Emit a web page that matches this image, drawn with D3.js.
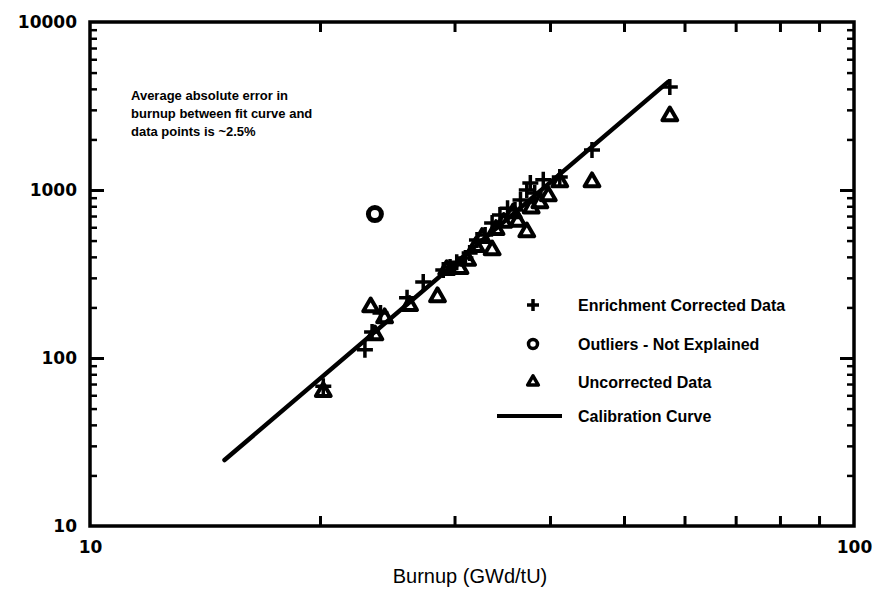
<!DOCTYPE html>
<html>
<head>
<meta charset="utf-8">
<script src="https://cdn.jsdelivr.net/npm/d3@7"></script>
<style>
    body { margin: 0; background: #fff; }
    svg { display: block; }
</style>
</head>
<body>
<div id="chart-area"></div>
<script>
// Burnup (GWd/tU) vs measured value, log-log
const enrichmentCorrected = [
    [20.2, 68], [22.9, 112], [23.4, 143], [24.0, 185], [26.0, 228], [27.3, 283],
    [29.0, 334], [29.6, 348], [30.2, 372], [31.0, 394], [31.4, 422], [32.1, 504],
    [32.9, 540], [33.6, 637], [34.4, 710], [35.2, 780], [36.0, 760], [36.6, 871],
    [37.3, 1000], [37.7, 1100], [38.2, 960], [39.2, 1150], [41.2, 1195],
    [45.4, 1730], [57.4, 4100]
];
const uncorrected = [
    [20.2, 63], [23.3, 201], [23.6, 137], [24.3, 173], [26.2, 205], [28.5, 231],
    [29.3, 335], [30.5, 340], [31.2, 380], [32.0, 460], [32.6, 520], [33.6, 439],
    [34.0, 580], [34.8, 640], [35.8, 729], [36.3, 650], [37.3, 562], [37.8, 780],
    [38.8, 837], [39.8, 920], [41.2, 1117], [45.4, 1117], [57.4, 2754]
];
const outliers = [[23.6, 719]];
const calibrationCurve = [[15.0, 24.7], [57.1, 4400]];

const xLabelTicks = [10, 100];
const yLabelTicks = [10, 100, 1000, 10000];
const legendLabels = ["Enrichment Corrected Data", "Outliers - Not Explained", "Uncorrected Data", "Calibration Curve"];
const noteLines = ["Average absolute error in", "burnup between fit curve and", "data points is ~2.5%"];
const xTitle = "Burnup (GWd/tU)";

const svg = d3.select("#chart-area")
    .append("svg")
        .attr("width", 885)
        .attr("height", 592);

const x = d3.scaleLog().domain([10, 100]).range([90, 854]);
const y = d3.scaleLog().domain([10, 10000]).range([526, 22]);

const fLeft = 90, fRight = 854, fTop = 22, fBottom = 526;

// minor ticks from the scales themselves
const xMinor = x.ticks().filter(d => !xLabelTicks.includes(d));
const yMinor = y.ticks().filter(d => !yLabelTicks.includes(d));
const yMid = [100, 1000];

function styleAxis(g, w) {
    g.select(".domain").remove();
    g.selectAll(".tick line").attr("stroke", "#000").attr("stroke-width", w);
}

// bottom / top minor ticks (inward)
svg.append("g").attr("transform", `translate(0,${fBottom})`)
    .call(d3.axisBottom(x).tickValues(xMinor).tickSize(-10).tickFormat(""))
    .call(g => styleAxis(g, 3));
svg.append("g").attr("transform", `translate(0,${fTop})`)
    .call(d3.axisTop(x).tickValues(xMinor).tickSize(-10).tickFormat(""))
    .call(g => styleAxis(g, 3));

// left / right ticks
svg.append("g").attr("transform", `translate(${fLeft},0)`)
    .call(d3.axisLeft(y).tickValues(yMinor).tickSize(-7).tickFormat(""))
    .call(g => styleAxis(g, 2.5));
svg.append("g").attr("transform", `translate(${fLeft},0)`)
    .call(d3.axisLeft(y).tickValues(yMid).tickSize(-14).tickFormat(""))
    .call(g => styleAxis(g, 3));
svg.append("g").attr("transform", `translate(${fRight},0)`)
    .call(d3.axisRight(y).tickValues(yMinor).tickSize(-7).tickFormat(""))
    .call(g => styleAxis(g, 2.5));
svg.append("g").attr("transform", `translate(${fRight},0)`)
    .call(d3.axisRight(y).tickValues(yMid).tickSize(-14).tickFormat(""))
    .call(g => styleAxis(g, 3));

// tick labels
svg.append("g").attr("transform", `translate(${fLeft},0)`)
    .call(d3.axisLeft(y).tickValues(yLabelTicks).tickSize(0).tickPadding(13).tickFormat(d3.format("d")))
    .call(g => g.select(".domain").remove())
    .selectAll("text")
        .attr("font-family", "DejaVu Sans")
        .attr("font-weight", "bold")
        .attr("font-size", 17)
        .attr("fill", "#000");
svg.append("g").attr("transform", `translate(0,${fBottom})`)
    .call(d3.axisBottom(x).tickValues(xLabelTicks).tickSize(0).tickPadding(15).tickFormat(d3.format("d")))
    .call(g => g.select(".domain").remove())
    .selectAll("text")
        .attr("font-family", "DejaVu Sans")
        .attr("font-weight", "bold")
        .attr("font-size", 17)
        .attr("fill", "#000");

// frame
svg.append("rect")
    .attr("x", fLeft)
    .attr("y", fTop)
    .attr("width", fRight - fLeft)
    .attr("height", fBottom - fTop)
    .attr("fill", "none")
    .attr("stroke", "#000")
    .attr("stroke-width", 3.5);

// calibration curve
const line = d3.line().x(d => x(d[0])).y(d => y(d[1]));
svg.append("path")
    .datum(calibrationCurve)
    .attr("d", line)
    .attr("fill", "none")
    .attr("stroke", "#000")
    .attr("stroke-width", 4.5)
    .attr("stroke-linecap", "round");

const tri = d3.symbol(d3.symbolTriangle, 95);
const triSmall = d3.symbol(d3.symbolTriangle, 50);

svg.selectAll(".tri")
    .data(uncorrected)
    .enter()
    .append("path")
        .attr("class", "tri")
        .attr("transform", d => `translate(${x(d[0])},${y(d[1])})`)
        .attr("d", tri)
        .attr("fill", "none")
        .attr("stroke", "#000")
        .attr("stroke-width", 4)
        .attr("stroke-linejoin", "round");

svg.selectAll(".plus")
    .data(enrichmentCorrected)
    .enter()
    .append("path")
        .attr("class", "plus")
        .attr("transform", d => `translate(${x(d[0])},${y(d[1])})`)
        .attr("d", "M-8,0H8M0,-8V8")
        .attr("stroke", "#000")
        .attr("stroke-width", 3.5);

svg.selectAll(".outlier")
    .data(outliers)
    .enter()
    .append("circle")
        .attr("class", "outlier")
        .attr("cx", d => x(d[0]))
        .attr("cy", d => y(d[1]))
        .attr("r", 6.5)
        .attr("fill", "none")
        .attr("stroke", "#000")
        .attr("stroke-width", 5);

// note
svg.append("text")
    .attr("x", 131)
    .attr("y", 100)
    .attr("font-family", "Liberation Sans")
    .attr("font-weight", "bold")
    .attr("font-size", 13)
    .selectAll("tspan")
    .data(noteLines)
    .enter()
    .append("tspan")
        .attr("x", 131)
        .attr("dy", (d, i) => i === 0 ? 0 : 18)
        .text(d => d);

// legend
const legendY = [305, 344, 382, 416];
const legend = svg.selectAll(".legend")
    .data(legendLabels)
    .enter()
    .append("g")
        .attr("class", "legend")
        .attr("transform", (d, i) => `translate(533,${legendY[i]})`);

legend.append("text")
    .attr("x", 45)
    .attr("dy", "0.36em")
    .attr("font-family", "Liberation Sans")
    .attr("font-weight", "bold")
    .attr("font-size", 16)
    .text(d => d);

legend.filter((d, i) => i === 0).append("path")
    .attr("d", "M-6,0H6M0,-6V6")
    .attr("stroke", "#000")
    .attr("stroke-width", 3.5);
legend.filter((d, i) => i === 1).append("circle")
    .attr("r", 4.5)
    .attr("fill", "none")
    .attr("stroke", "#000")
    .attr("stroke-width", 3.5);
legend.filter((d, i) => i === 2).append("path")
    .attr("d", triSmall)
    .attr("fill", "none")
    .attr("stroke", "#000")
    .attr("stroke-width", 3.5)
    .attr("stroke-linejoin", "round");
legend.filter((d, i) => i === 3).append("line")
    .attr("x1", -36)
    .attr("x2", 29)
    .attr("stroke", "#000")
    .attr("stroke-width", 4);

// axis title
svg.append("text")
    .attr("x", 470)
    .attr("y", 583)
    .attr("text-anchor", "middle")
    .attr("font-family", "Liberation Sans")
    .attr("font-size", 20)
    .text(xTitle);
</script>
</body>
</html>
